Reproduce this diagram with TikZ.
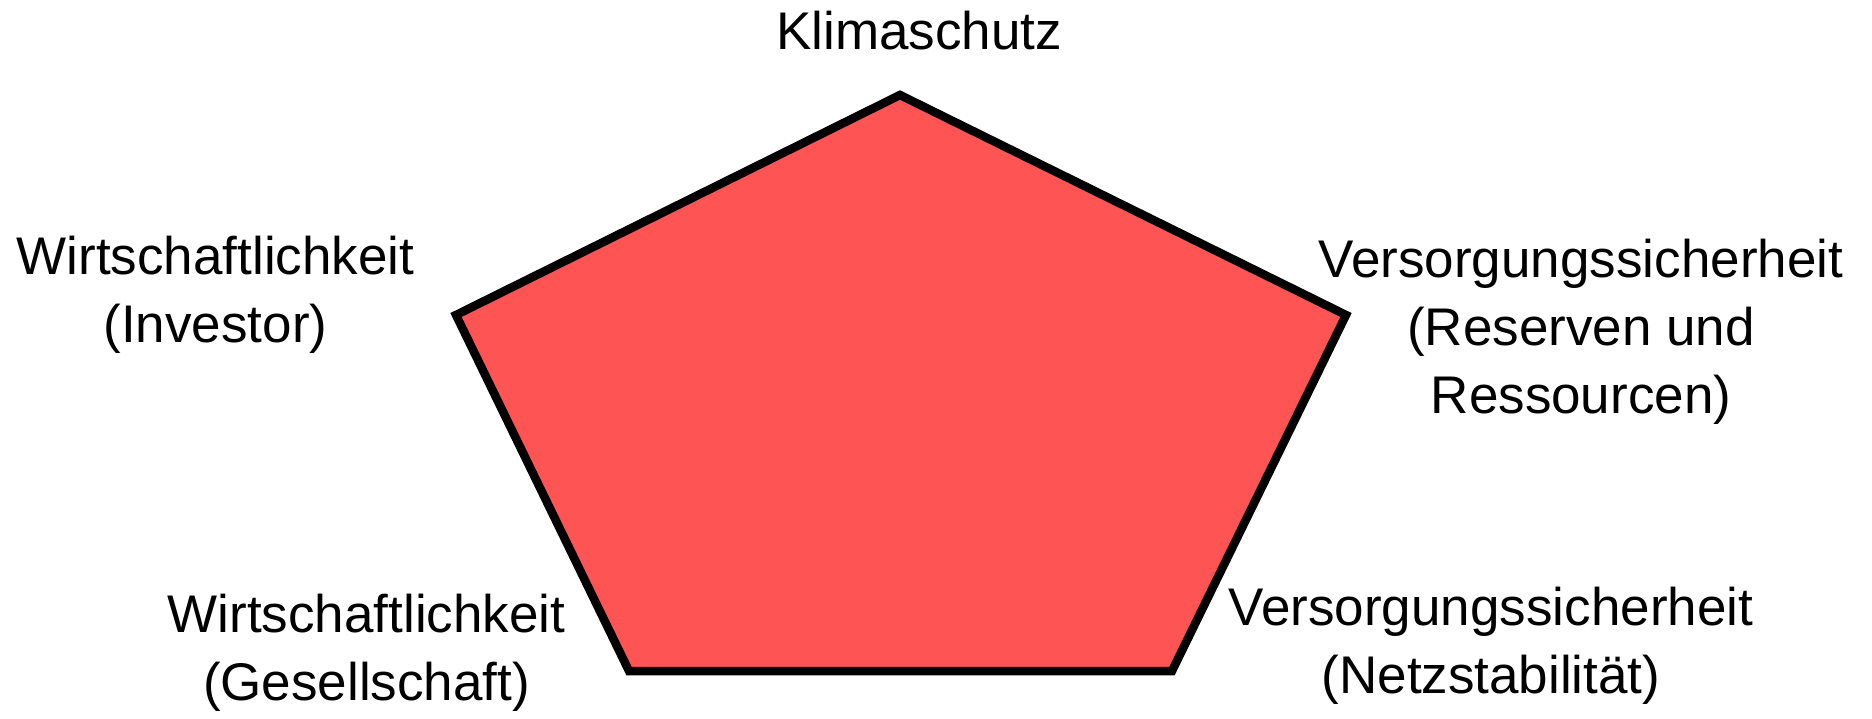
\documentclass[tikz,border=0pt]{standalone}
\usepackage{fontspec}
\setmainfont{Liberation Sans}
\definecolor{pentafill}{HTML}{FF5454}
\begin{document}
\begin{tikzpicture}[x=1pt,y=-1pt,
  lbl/.style={align=center,anchor=base,inner sep=0pt,font=\fontsize{53}{68}\selectfont}]
\useasboundingbox (0,0) rectangle (1872,719);
\coordinate (T) at (900,95);
\coordinate (R) at (1346,315);
\coordinate (BR) at (1172,671);
\coordinate (BL) at (629,671);
\coordinate (L) at (456,315);
\draw[line width=8.5pt,line join=miter,fill=pentafill] (T) -- (R) -- (BR) -- (BL) -- (L) -- cycle;
\node[lbl] (klima) at (919,50) {Klimaschutz};
\node[lbl] (wi) at (215.5,343) {Wirtschaftlichkeit\\(Investor)};
\node[lbl] (vr) at (1581,413) {Versorgungssicherheit\\(Reserven und\\Ressourcen)};
\node[lbl] (wg) at (366.5,700) {Wirtschaftlichkeit\\(Gesellschaft)};
\node[lbl] (vn) at (1491,693) {Versorgungssicherheit\\(Netzstabilität)};
\end{tikzpicture}
\end{document}
